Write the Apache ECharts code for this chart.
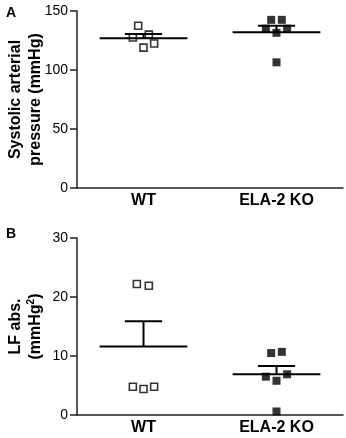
<!DOCTYPE html>
<html>
<head>
<meta charset="utf-8">
<script src="https://cdn.jsdelivr.net/npm/echarts@6/dist/echarts.min.js"></script>
<style>
  html, body { margin: 0; padding: 0; background: #fff; }
  #chart { width: 346px; height: 438px; }
</style>
</head>
<body>
<div id="chart"></div>
<script>
// groups on the x axis (centres at 0.5 and 1.5, points jittered around them)
var groups = ['WT', 'ELA-2 KO']
var groupPos = [0.5, 1.5]

// panel A: systolic arterial pressure (mmHg), [x, value]
var sbpWT = [[0.46, 137.5], [0.42, 127.5], [0.54, 130], [0.50, 119], [0.58, 122.5]]
var sbpKO = [[1.46, 142.5], [1.54, 142.5], [1.42, 135], [1.58, 135], [1.50, 131.5], [1.50, 106.5]]
var sbpMean = [127, 132]
var sbpSem = [3.5, 5.5]
var sbpTicks = [0, 150, 50]   // min, max, step

// panel B: LF abs. (mmHg^2)
var lfWT = [[0.45, 22.2], [0.54, 21.9], [0.42, 4.8], [0.50, 4.4], [0.58, 4.8]]
var lfKO = [[1.46, 10.5], [1.54, 10.7], [1.42, 6.5], [1.58, 6.9], [1.50, 5.8], [1.50, 0.6]]
var lfMean = [11.6, 6.9]
var lfSem = [4.3, 1.4]
var lfTicks = [0, 30, 10]

var FONT = 'Liberation Sans, Arial, sans-serif'
var AXIS_COLOR = '#222'

var meanHalf = 0.33, capHalf = 0.14

const renderMeanSem = (params, api) => {
    var x = api.value(0), m = api.value(1), s = api.value(2)
    var a = api.coord([x - meanHalf, m]), b = api.coord([x + meanHalf, m])
    var c = api.coord([x, m]), t = api.coord([x, m + s])
    var c0 = api.coord([x - capHalf, m + s]), c1 = api.coord([x + capHalf, m + s])
    var st = { stroke: '#000', lineWidth: 2 }
    return {
        type: 'group',
        children: [
            { type: 'line', shape: { x1: a[0], y1: a[1], x2: b[0], y2: b[1] }, style: st },
            { type: 'line', shape: { x1: c[0], y1: c[1], x2: t[0], y2: t[1] }, style: st },
            { type: 'line', shape: { x1: c0[0], y1: c0[1], x2: c1[0], y2: c1[1] }, style: st }
        ]
    }
}

const makeX = (idx) => ({
    type: 'value', gridIndex: idx, min: 0, max: 2, interval: 0.5,
    axisLine: { show: true, lineStyle: { color: AXIS_COLOR, width: 1.5 } },
    axisTick: { show: false },
    splitLine: { show: false },
    axisLabel: {
        margin: 5, color: '#000', fontFamily: FONT, fontSize: 16, fontWeight: 'bold',
        formatter: v => {
            var i = groupPos.indexOf(v)
            return i >= 0 ? groups[i] : ''
        }
    }
})

const makeY = (idx, ticks, name) => ({
    type: 'value', gridIndex: idx, min: ticks[0], max: ticks[1], interval: ticks[2],
    axisLine: { show: true, lineStyle: { color: AXIS_COLOR, width: 1.5 } },
    axisTick: { show: true, length: 7, lineStyle: { color: AXIS_COLOR, width: 1.5 } },
    splitLine: { show: false },
    axisLabel: { margin: 9, color: '#000', fontFamily: FONT, fontSize: 14 },
    name: name,
    nameLocation: 'middle',
    nameRotate: 90,
    nameGap: 31,
    nameMoveOverlap: false,
    nameTextStyle: {
        color: '#000', fontFamily: FONT, fontSize: 16, fontWeight: 'bold', lineHeight: 20,
        rich: { sup: { fontSize: 10, fontWeight: 'bold', fontFamily: FONT, verticalAlign: 'top', padding: [0, 0, 8, 0] } }
    }
})

const openSq = { color: '#fff', borderColor: '#000', borderWidth: 1.6 }
const fillSq = { color: '#000' }

var chart = echarts.init(document.getElementById('chart'))
chart.setOption({
    animation: false,
    grid: [
        { left: 77, top: 11, width: 266, height: 177, outerBoundsMode: 'none', containLabel: false },
        { left: 77, top: 238, width: 266, height: 177, outerBoundsMode: 'none', containLabel: false }
    ],
    xAxis: [makeX(0), makeX(1)],
    yAxis: [
        makeY(0, sbpTicks, 'Systolic arterial\npressure (mmHg)'),
        makeY(1, lfTicks, 'LF abs.\n(mmHg{sup|2})')
    ],
    graphic: [
        { type: 'text', left: 6, top: 6, style: { text: 'A', font: 'bold 14px ' + FONT, fill: '#000' } },
        { type: 'text', left: 6, top: 227, style: { text: 'B', font: 'bold 14px ' + FONT, fill: '#000' } }
    ],
    series: [
        { type: 'scatter', xAxisIndex: 0, yAxisIndex: 0, symbol: 'rect', symbolSize: 7, itemStyle: openSq, data: sbpWT, z: 2 },
        { type: 'scatter', xAxisIndex: 0, yAxisIndex: 0, symbol: 'rect', symbolSize: 8, itemStyle: fillSq, data: sbpKO, z: 2 },
        { type: 'custom', xAxisIndex: 0, yAxisIndex: 0, renderItem: renderMeanSem, z: 3,
          data: groupPos.map((p, i) => [p, sbpMean[i], sbpSem[i]]) },
        { type: 'scatter', xAxisIndex: 1, yAxisIndex: 1, symbol: 'rect', symbolSize: 7, itemStyle: openSq, data: lfWT, z: 2 },
        { type: 'scatter', xAxisIndex: 1, yAxisIndex: 1, symbol: 'rect', symbolSize: 8, itemStyle: fillSq, data: lfKO, z: 2 },
        { type: 'custom', xAxisIndex: 1, yAxisIndex: 1, renderItem: renderMeanSem, z: 3,
          data: groupPos.map((p, i) => [p, lfMean[i], lfSem[i]]) }
    ]
})
</script>
</body>
</html>
